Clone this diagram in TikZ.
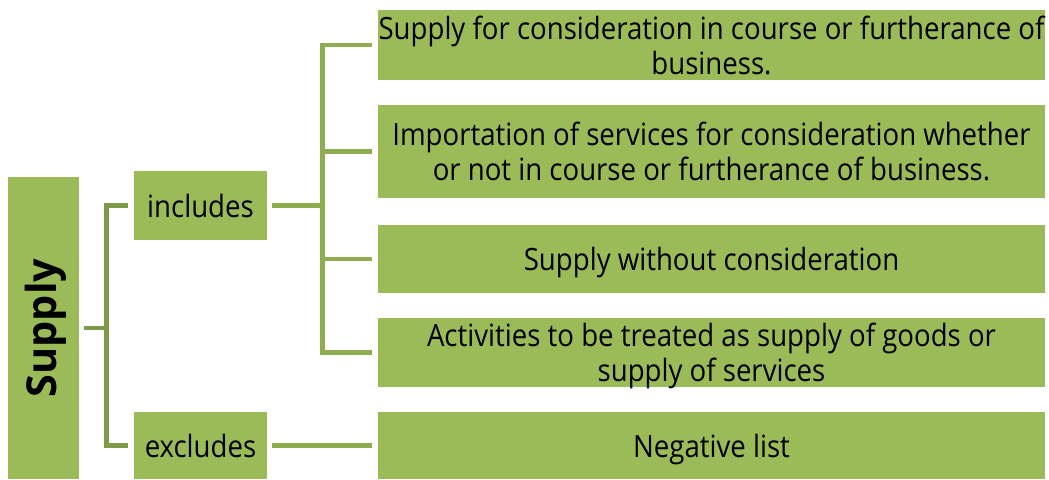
\documentclass[tikz,border=0pt]{standalone}
\usepackage{fontspec}
\setmainfont{Open Sans}[FakeStretch=0.9]
\newfontfamily\boldlab{Open Sans}
\usetikzlibrary{positioning}
\definecolor{boxgreen}{HTML}{9BBB59}
\definecolor{lineL}{HTML}{7F9A48}
\definecolor{lineR}{HTML}{8EAC50}
\tikzset{
  gbox/.style={fill=boxgreen, draw=none, inner sep=0pt, align=center, text depth=0pt,
    font=\fontsize{23}{26.5}\selectfont},
  brL/.style={draw=lineL, line width=3.6pt},
  brR/.style={draw=lineR, line width=3.6pt},
}
\begin{document}
\begin{tikzpicture}[x=0.75pt,y=-0.75pt]
\useasboundingbox (0,0) rectangle (1049,479);
% left column
\node[gbox, minimum width=71*0.75pt, minimum height=302*0.75pt] (supply) at (43.5,328)
  {\hspace*{3pt}\rotatebox{90}{\boldlab\fontsize{31}{33}\selectfont\bfseries Supply}};
\node[gbox, minimum width=133*0.75pt, minimum height=69*0.75pt] (inc) at (200.5,205.5) {includes};
\node[gbox, minimum width=133*0.75pt, minimum height=67*0.75pt] (exc) at (200.5,445.5) {excludes};
% right column
\node[gbox, minimum width=667*0.75pt, minimum height=70*0.75pt] (r1) at (711.5,45)
  {Supply for consideration in course or furtherance of\\business.};
\node[gbox, minimum width=667*0.75pt, minimum height=93*0.75pt] (r2) at (711.5,151.5)
  {Importation of services for consideration whether\\or not in course or furtherance of business.};
\node[gbox, minimum width=667*0.75pt, minimum height=68*0.75pt] (r3) at (711.5,259)
  {Supply without consideration};
\node[gbox, minimum width=667*0.75pt, minimum height=69*0.75pt] (r4) at (711.5,352.5)
  {Activities to be treated as supply of goods or\\supply of services};
\node[gbox, minimum width=667*0.75pt, minimum height=67*0.75pt] (r5) at (711.5,445.5)
  {Negative list};
% left bracket
\coordinate (lb) at ([xshift=27*0.75pt]supply.east);
\draw[brL] ([xshift=-4.5pt]inc.west) -| (lb) |- ([xshift=-4.5pt]exc.west);
\draw[brL] ([xshift=3.75pt]supply.east) -- (lb);
% right bracket
\coordinate (rb) at ([xshift=55*0.75pt]inc.east);
\draw[brR] ([xshift=3.75pt]inc.east) -- (rb);
\draw[brR] ([xshift=-4.5pt]r1.west) -| (rb) |- ([xshift=-4.5pt]r4.west);
\draw[brR] ([xshift=-4.5pt]r2.west) -- (rb |- r2.west);
\draw[brR] ([xshift=-4.5pt]r3.west) -- (rb |- r3.west);
% excludes connector
\draw[brR] ([xshift=3.75pt]exc.east) -- ([xshift=-4.5pt]r5.west);
\end{tikzpicture}
\end{document}
